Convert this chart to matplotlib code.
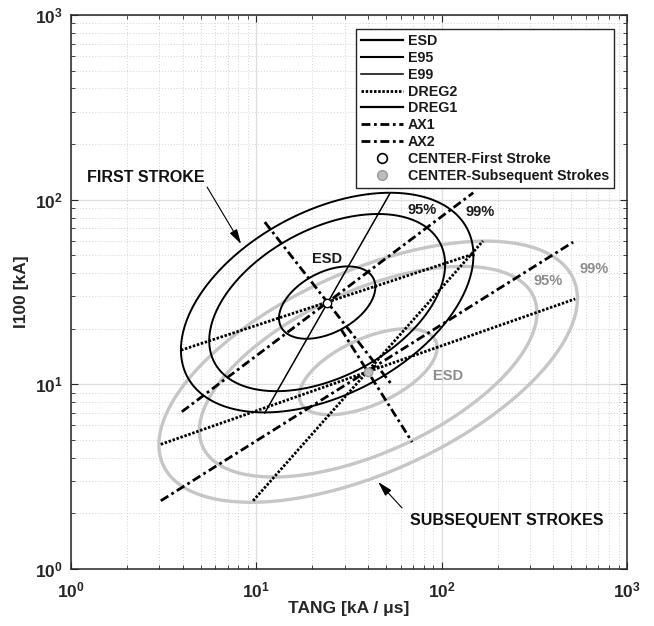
import numpy as np
import matplotlib
matplotlib.use("Agg")
import matplotlib.pyplot as plt
from matplotlib.lines import Line2D
from matplotlib.ticker import FuncFormatter, LogLocator, NullFormatter

plt.rcParams['font.family'] = ['Liberation Sans', 'DejaVu Sans']
plt.rcParams['font.weight'] = 'bold'
plt.rcParams['axes.labelweight'] = 'bold'
plt.rcParams['mathtext.fontset'] = 'custom'
plt.rcParams['mathtext.rm'] = 'Liberation Sans:bold'
plt.rcParams['mathtext.bf'] = 'Liberation Sans:bold'

# ---------------- data ----------------
# ellipse parameters in log10 space: centre (kA/us, kA), std of log10, correlation
first_center = [24.1, 27.7]
first_sigma = [0.260, 0.196]
first_rho = 0.43
subs_center = [40.1, 11.7]
subs_sigma = [0.372, 0.233]
subs_rho = 0.56
# confidence radii: ESD, 95 %, 99 %
ellipse_names = ["ESD", "E95", "E99"]
ellipse_k = [1.0, 2.4477, 3.0349]

# straight lines (end points)
first_dreg2_x = [3.92, 146.0]
first_dreg2_y = [15.3, 50.5]
first_dreg1_x = [11.1, 52.7]
first_dreg1_y = [7.0, 108.6]
first_ax1_x = [3.96, 148.0]
first_ax1_y = [7.1, 109.0]
first_ax2_x = [11.1, 54.0]
first_ax2_y = [75.6, 9.9]

subs_dreg2_x = [3.05, 525.0]
subs_dreg2_y = [4.73, 29.0]
subs_dreg1_x = [9.6, 167.0]
subs_dreg1_y = [2.34, 59.7]
subs_ax1_x = [3.05, 512.0]
subs_ax1_y = [2.34, 58.9]
subs_ax2_x = [28.6, 69.2]
subs_ax2_y = [19.9, 4.87]

legend_labels = ["ESD", "E95", "E99", "DREG2", "DREG1", "AX1", "AX2",
                 "CENTER-First Stroke", "CENTER-Subsequent Strokes"]


def ellipse(center, sigma, rho, k, n=400):
    t = np.linspace(0, 2 * np.pi, n)
    mx, my = np.log10(center[0]), np.log10(center[1])
    a = sigma[0] * np.cos(t)
    b = sigma[1] * (rho * np.cos(t) + np.sqrt(1 - rho ** 2) * np.sin(t))
    return 10 ** (mx + k * a), 10 ** (my + k * b)


fig = plt.figure(figsize=(6.54, 6.26), dpi=100)
ax = fig.add_axes([0.1086, 0.0911, 0.8502, 0.885])
ax.set_xscale('log')
ax.set_yscale('log')
ax.set_xlim(1, 1000)
ax.set_ylim(1, 1000)

GRAY = '#c6c6c6'
dash_dot = (0, (3.2, 1.3, 1.0, 1.3))
dotted = (0, (0.9, 0.6))

# subsequent strokes (gray ellipses)
for k in ellipse_k:
    ex, ey = ellipse(subs_center, subs_sigma, subs_rho, k)
    ax.plot(ex, ey, color=GRAY, lw=2.4, zorder=2)

# first stroke (black ellipses)
for k in ellipse_k:
    ex, ey = ellipse(first_center, first_sigma, first_rho, k)
    ax.plot(ex, ey, color='black', lw=1.4, zorder=3)

lk = dict(color='black', zorder=4)
ax.plot(first_dreg2_x, first_dreg2_y, ls=dotted, lw=2.0, **lk)
ax.plot(first_dreg1_x, first_dreg1_y, ls='-', lw=1.1, **lk)
ax.plot(first_ax1_x, first_ax1_y, ls=dash_dot, lw=2.0, **lk)
ax.plot(first_ax2_x, first_ax2_y, ls=dash_dot, lw=2.0, **lk)
ax.plot(subs_dreg2_x, subs_dreg2_y, ls=dotted, lw=2.0, **lk)
ax.plot(subs_dreg1_x, subs_dreg1_y, ls=dotted, lw=2.0, **lk)
ax.plot(subs_ax1_x, subs_ax1_y, ls=dash_dot, lw=2.0, **lk)
ax.plot(subs_ax2_x, subs_ax2_y, ls=dash_dot, lw=2.0, **lk)

ax.plot([first_center[0]], [first_center[1]], 'o', ms=6, mfc='white', mec='black', zorder=5)
ax.plot([subs_center[0]], [subs_center[1]], 'o', ms=6, mfc='#bdbdbd', mec='#9a9a9a', zorder=5)

# annotations
ax.text(24.1, 47.7, "ESD", ha='center', va='center', fontsize=10.5, color='#1a1a1a')
ax.text(78.8, 87.8, "95%", ha='center', va='center', fontsize=10.5, color='#1a1a1a')
ax.text(161, 85.7, "99%", ha='center', va='center', fontsize=10.5, color='#1a1a1a')
ax.text(108, 11.1, "ESD", ha='center', va='center', fontsize=10.5, color='#8c8c8c')
ax.text(375, 36.3, "95%", ha='center', va='center', fontsize=10.5, color='#8c8c8c')
ax.text(664, 42.1, "99%", ha='center', va='center', fontsize=10.5, color='#8c8c8c')

ax.text(2.54, 131, "FIRST STROKE", ha='center', va='center', fontsize=11.5, color='#111111')
ax.annotate("", xy=(8.27, 57.5), xytext=(5.42, 117),
            arrowprops=dict(arrowstyle='-|>,head_length=0.9,head_width=0.25',
                            color='black', lw=0.8, shrinkA=0, shrinkB=0))
ax.text(225, 1.84, "SUBSEQUENT STROKES", ha='center', va='center', fontsize=11.5, color='#111111')
ax.annotate("", xy=(45.4, 2.96), xytext=(61.1, 2.14),
            arrowprops=dict(arrowstyle='-|>,head_length=0.9,head_width=0.25',
                            color='black', lw=0.8, shrinkA=0, shrinkB=0))

# grid & ticks
ax.grid(True, which='major', color='#dedede', lw=0.9, ls='-')
ax.grid(True, which='minor', color='#d2d2d2', lw=0.7, ls=(0, (1, 2)))
ax.set_axisbelow(True)
for axis in (ax.xaxis, ax.yaxis):
    axis.set_major_locator(LogLocator(base=10, numticks=10))
    axis.set_minor_locator(LogLocator(base=10, subs=np.arange(2, 10), numticks=10))
    axis.set_major_formatter(FuncFormatter(lambda v, p: r'$\mathbf{10^{%d}}$' % int(round(np.log10(v)))))
    axis.set_minor_formatter(NullFormatter())
ax.tick_params(which='both', direction='in', top=True, right=True, colors='#262626',
               labelcolor='#262626', labelsize=12.5)
ax.tick_params(which='major', length=5, width=0.8)
ax.tick_params(which='minor', length=3, width=0.6)
ax.tick_params(axis='x', pad=8)
ax.tick_params(axis='y', pad=6)
for s in ax.spines.values():
    s.set_color('#262626')
    s.set_linewidth(1.1)

ax.set_xlabel("TANG [kA / μs]", fontsize=12.5, fontweight='bold', color='#262626', labelpad=1)
ax.set_ylabel("I100 [kA]", fontsize=12.5, fontweight='bold', color='#262626', labelpad=4)

# legend
handles = [
    Line2D([], [], color='black', lw=1.6),
    Line2D([], [], color='black', lw=1.5),
    Line2D([], [], color='black', lw=1.1),
    Line2D([], [], color='black', lw=2.0, ls=dotted),
    Line2D([], [], color='black', lw=1.6),
    Line2D([], [], color='black', lw=2.0, ls=dash_dot),
    Line2D([], [], color='black', lw=2.0, ls=dash_dot),
    Line2D([], [], ls='none', marker='o', ms=7, mfc='white', mec='black', mew=1.2),
    Line2D([], [], ls='none', marker='o', ms=7, mfc='#bdbdbd', mec='#9a9a9a'),
]
leg = ax.legend(handles, legend_labels, loc='upper right', bbox_to_anchor=(0.9766, 0.9747),
                borderaxespad=0, fontsize=10.3, labelspacing=0.2, handlelength=2.9,
                handletextpad=0.35, borderpad=0.35, fancybox=False, framealpha=1,
                edgecolor='#262626')
leg.get_frame().set_linewidth(1.0)
for t in leg.get_texts():
    t.set_color('#1a1a1a')

fig.savefig("out.png", dpi=100)
